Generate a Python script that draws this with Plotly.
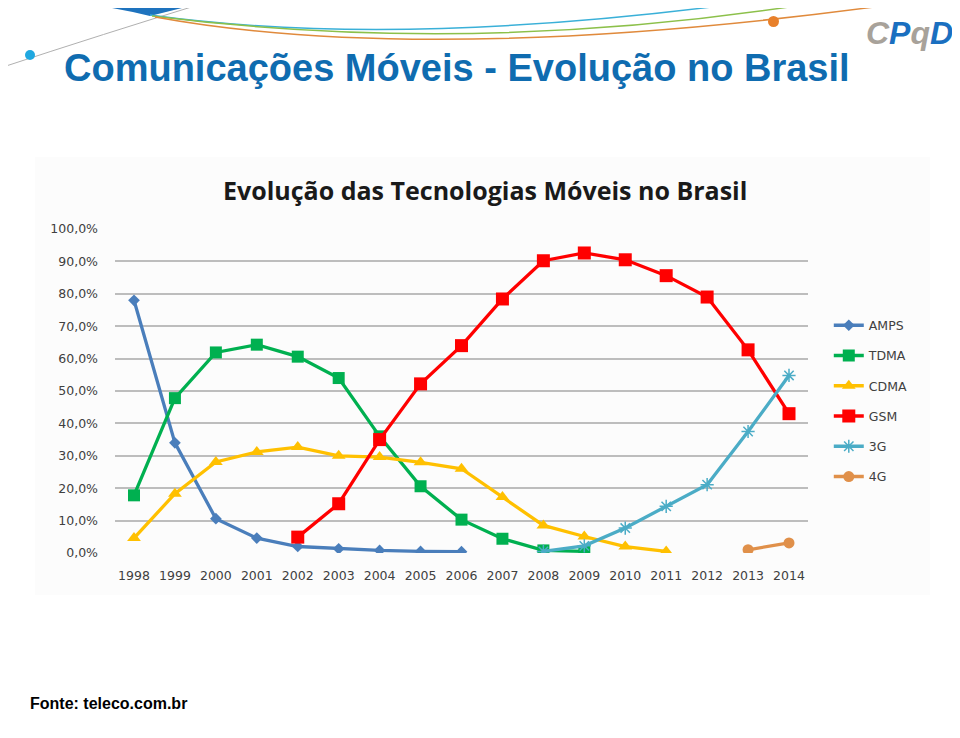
import plotly.graph_objects as go

years = list(range(1998, 2015))
amps = [78.0, 34.0, 10.6, 4.6, 2.0, 1.3, 0.8, 0.5, 0.4] + [None] * 8
tdma = [17.8, 47.8, 61.9, 64.3, 60.6, 54.0, 36.0, 20.6, 10.3, 4.4, 0.8, 0.5] + [None] * 5
cdma = [4.6, 18.3, 28.1, 31.2, 32.7, 30.0, 29.6, 28.0, 26.0, 17.3, 8.5, 5.1, 2.0, 0.5] + [None] * 3
gsm = [None] * 4 + [4.9, 15.2, 35.0, 52.2, 64.0, 78.4, 90.2, 92.6, 90.5, 85.6, 79.0, 62.7, 43.0]
g3 = [None] * 10 + [0.5, 2.2, 7.7, 14.4, 21.1, 37.5, 54.8]
g4 = [None] * 15 + [1.0, 3.1]

y_ticks = [0, 10, 20, 30, 40, 50, 60, 70, 80, 90, 100]
y_tick_labels = ["0,0%", "10,0%", "20,0%", "30,0%", "40,0%", "50,0%",
                 "60,0%", "70,0%", "80,0%", "90,0%", "100,0%"]

series = [
    ("AMPS", amps, "#4a7ebb", "diamond", 9),
    ("TDMA", tdma, "#00b050", "square", 12),
    ("CDMA", cdma, "#ffc000", "triangle-up", 12),
    ("GSM", gsm, "#ff0000", "square", 13),
    ("3G", g3, "#4bacc6", "asterisk-open", 11),
    ("4G", g4, "#e0904a", "circle", 11),
]

TICK_FONT = "DejaVu Sans, Open Sans, sans-serif"

fig = go.Figure()
for name, vals, color, sym, size in series:
    fig.add_trace(go.Scatter(
        x=years, y=vals, name=name, mode="lines+markers",
        line=dict(color=color, width=3.3),
        marker=dict(symbol=sym, size=size, color=color,
                    line=dict(color=color, width=1.5 if sym == "asterisk-open" else 0)),
        legendgroup=name,
    ))


def px(x):
    return (x - 115) / 693


def py(y):
    return (553 - y) / 324


def quad(p0, p1, p2):
    return "M %f %f Q %f %f %f %f" % (px(p0[0]), py(p0[1]), px(p1[0]), py(p1[1]),
                                      px(p2[0]), py(p2[1]))


fig.update_layout(
    width=952, height=730,
    margin=dict(l=107, r=152, t=221, b=185),
    paper_bgcolor="white", plot_bgcolor="rgba(0,0,0,0)",
    showlegend=True,
    legend=dict(x=1.03, y=0.748, xanchor="left", yanchor="top",
                font=dict(family=TICK_FONT, size=12.5, color="#404040"),
                tracegroupgap=11, bgcolor="rgba(0,0,0,0)"),
    xaxis=dict(range=[1997.536, 2014.464], tickvals=years,
               ticktext=[str(y) for y in years], showgrid=False, zeroline=False,
               showline=False, ticks="", ticklabelstandoff=13,
               tickfont=dict(family=TICK_FONT, size=12.5, color="#404040")),
    yaxis=dict(range=[0, 100], tickvals=y_ticks, ticktext=y_tick_labels,
               showgrid=True, gridcolor="#bdbdbd", gridwidth=1.5, zeroline=False,
               showline=False, ticks="", ticklabelstandoff=16,
               tickfont=dict(family=TICK_FONT, size=12.5, color="#404040")),
    shapes=[
        dict(type="rect", xref="paper", yref="paper", layer="below",
             x0=px(35), x1=px(930), y0=py(595), y1=py(157),
             fillcolor="#fcfcfc", line=dict(width=0)),
        # decorative header graphics
        dict(type="path", xref="paper", yref="paper",
             path=quad((0, 68), (100, 35), (214, 0)),
             line=dict(color="#b0b0b0", width=1)),
        dict(type="path", xref="paper", yref="paper", layer="above",
             path="M %f %f L %f %f L %f %f Q %f %f %f %f Z" % (
                 px(55), py(0), px(214), py(0), px(150), py(16),
                 px(110), py(6), px(55), py(0)),
             fillcolor="#1e73be", line=dict(width=0)),
        dict(type="path", xref="paper", yref="paper",
             path=quad((150, 15), (402, 50), (765, 0)),
             line=dict(color="#3ab0d8", width=1.5)),
        dict(type="path", xref="paper", yref="paper",
             path=quad((152, 16), (487, 58), (833, 0)),
             line=dict(color="#8cc04a", width=1.5)),
        dict(type="path", xref="paper", yref="paper",
             path=quad((155, 17), (440, 69), (925, 0)),
             line=dict(color="#e08a3c", width=1.5)),
        dict(type="circle", xref="paper", yref="paper",
             x0=px(768), x1=px(779), y0=py(27), y1=py(16),
             fillcolor="#e8802a", line=dict(width=0)),
        dict(type="circle", xref="paper", yref="paper",
             x0=px(25), x1=px(35), y0=py(60), y1=py(50),
             fillcolor="#20a8e0", line=dict(width=0)),
    ],
    annotations=[
        dict(text="<b>Comunicações Móveis - Evolução no Brasil</b>",
             xref="paper", yref="paper", x=px(62), y=py(68),
             xanchor="left", yanchor="middle", showarrow=False,
             font=dict(family="Liberation Sans, Arial", size=38, color="#0f6cb0")),
        dict(text="<b>Evolução das Tecnologias Móveis no Brasil</b>",
             xref="paper", yref="paper", x=px(485), y=py(190),
             xanchor="center", yanchor="middle", showarrow=False,
             font=dict(family="Open Sans, sans-serif", size=25, color="#1a1a1a")),
        dict(text="<b>Fonte: teleco.com.br</b>",
             xref="paper", yref="paper", x=px(28), y=py(703),
             xanchor="left", yanchor="middle", showarrow=False,
             font=dict(family="Liberation Sans, Arial", size=16, color="#000000")),
        dict(text="<b><i><span style='color:#a8a29a'>C</span><span style='color:#1a6fc0'>P</span>"
                  "<span style='color:#a8a29a'>q</span><span style='color:#1a6fc0'>D</span></i></b>",
             xref="paper", yref="paper", x=px(910), y=py(33),
             xanchor="center", yanchor="middle", showarrow=False,
             font=dict(family="Liberation Sans, Arial", size=32, color="#1a6fc0")),
    ],
)

fig.write_html("out.html")
